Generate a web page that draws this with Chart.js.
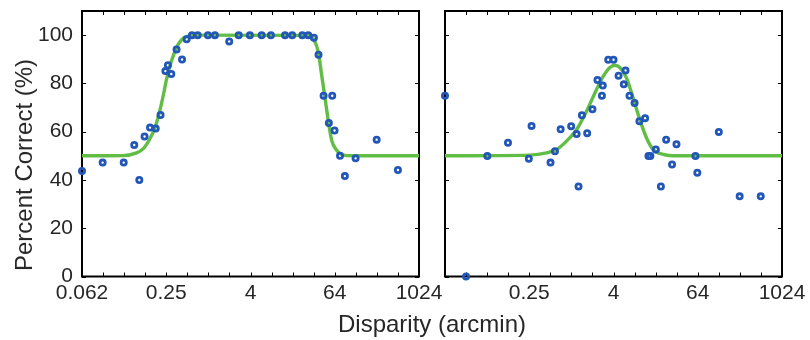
<!DOCTYPE html>
<html><head><meta charset="utf-8">
<script src="https://cdn.jsdelivr.net/npm/chart.js@4.4.1/dist/chart.umd.min.js"></script>
<style>
html,body{margin:0;padding:0;background:#fff;}
#wrap{position:relative;width:810px;height:340px;overflow:hidden;}
canvas{position:absolute;left:0;top:0;}
.t{position:absolute;white-space:nowrap;font-family:"Liberation Sans",Arial,sans-serif;font-size:24px;color:#262626;line-height:24px;}
#xt{left:432px;top:312px;transform:translateX(-50%);}
#yt{left:24px;top:165px;transform:translate(-50%,-50%) rotate(-90deg);}
</style></head>
<body><div id="wrap">
<canvas id="c1" width="810" height="340"></canvas>
<canvas id="c2" width="810" height="340"></canvas>
<div class="t" id="xt">Disparity (arcmin)</div>
<div class="t" id="yt">Percent Correct (%)</div>
</div>
<script>
// x positions are log2 of disparity (arcmin)
const xTickValues = [-6, -2, 2, 6, 10];
const xTickLabels = ['0.062', '0.25', '4', '64', '1024'];
const yTickValues = [0, 20, 40, 60, 80, 100];

const leftLog2Disparity = [-6.00,-5.02,-4.02,-3.52,-3.28,-3.03,-2.77,-2.50,-2.27,-2.04,-1.92,-1.76,-1.51,-1.25,-1.03,-0.78,-0.51,-0.02,0.31,0.99,1.44,1.97,2.53,2.97,3.64,3.98,4.46,4.74,5.01,5.23,5.47,5.88,5.72,5.99,6.25,6.48,6.99,7.99,9.00];
const leftPercent = [43.7,47.2,47.2,54.5,40.0,58.0,61.7,61.3,66.9,85.1,87.5,83.9,94.1,89.9,98.3,100,100,100,100,97.4,100,100,100,100,100,100,100,100,98.9,91.9,74.9,74.9,63.6,60.5,50.0,41.6,49.0,56.7,44.1];
const leftFitLog2 = [-6,-4.04,-3.41,-3.09,-2.77,-2.52,-2.30,-2.14,-1.98,-1.82,-1.66,-1.51,-1.27,-1.03,-0.72,4.74,4.98,5.22,5.37,5.53,5.69,5.85,6.09,6.41,6.88,10];
const leftFitPercent = [50,50.1,51.2,53.0,57.2,62.0,68.9,75.1,82.0,87.5,91.6,95.0,98.1,99.4,100,99.9,98.5,93.0,84.0,74.4,64.7,56.5,52.3,50.3,50,50];

const rightLog2Disparity = [-6.0,-5.0,-3.99,-3.01,-2.02,-1.89,-0.99,-0.78,-0.51,-0.01,0.25,0.34,0.50,0.75,1.00,1.24,1.45,1.49,1.75,2.00,2.24,2.57,2.49,2.76,3.00,3.23,3.50,3.66,3.75,4.01,4.25,4.50,4.78,4.99,5.89,5.98,7.00,7.99,8.99];
const rightPercent = [74.9,0,49.9,55.4,48.8,62.4,47.2,51.9,61.0,62.3,59.0,37.3,66.8,59.4,69.3,81.4,74.9,79.1,89.8,89.8,83.2,85.4,79.6,74.9,71.9,64.3,65.6,49.9,49.9,52.6,37.3,56.7,46.4,54.8,49.9,43.0,59.9,33.2,33.2];
const rightFitLog2 = [-6,-1.97,-1.18,-0.70,-0.23,0.25,0.72,1.19,1.51,1.83,2.06,2.30,2.62,2.93,3.25,3.57,3.88,4.36,4.99,10];
const rightFitPercent = [50,50.3,51.2,52.6,56.1,60.9,68.5,77.4,82.9,86.6,87.5,86.6,82.2,74.0,65.0,57.4,52.6,50.6,50,50];

const BLUE = '#2257b8';
const GREEN = '#62bd45';
const TXT = '#262626';
const FONT = '"Liberation Sans", Arial, sans-serif';

const boxPlugin = {
  id: 'box',
  beforeDatasetsDraw(chart) {
    const {ctx, chartArea: a, scales: {x, y}} = chart;
    ctx.save();
    ctx.strokeStyle = '#000';
    ctx.lineWidth = 1;
    ctx.beginPath();
    for (let v = -5; v <= 9; v++) {
      const px = Math.round(x.getPixelForValue(v)) + 0.5;
      ctx.moveTo(px, a.bottom); ctx.lineTo(px, a.bottom - 4);
      ctx.moveTo(px, a.top); ctx.lineTo(px, a.top + 4);
    }
    yTickValues.forEach(v => {
      const py = Math.round(y.getPixelForValue(v)) + 0.5;
      ctx.moveTo(a.left, py); ctx.lineTo(a.left + 4, py);
      ctx.moveTo(a.right, py); ctx.lineTo(a.right - 4, py);
    });
    ctx.stroke();
    ctx.lineWidth = 2;
    ctx.strokeRect(a.left, a.top, a.right - a.left, a.bottom - a.top);
    ctx.restore();
  }
};

function makeChart(id, xs, ys, fx, fy, left, right, showY) {
  const pts = xs.map((v, i) => ({x: v, y: ys[i]}));
  const fit = fx.map((v, i) => ({x: v, y: fy[i]}));
  return new Chart(document.getElementById(id), {
    type: 'scatter',
    data: {datasets: [
      {type: 'line', data: fit, borderColor: GREEN, borderWidth: 3.4, pointRadius: 0,
       cubicInterpolationMode: 'monotone', fill: false, order: 1, clip: false},
      {type: 'scatter', data: pts, pointRadius: 2.6, pointBorderWidth: 2.8,
       pointBorderColor: BLUE, pointBackgroundColor: 'rgba(255,255,255,0)', order: 0, clip: false}
    ]},
    options: {
      responsive: false, animation: false, devicePixelRatio: 1,
      layout: {padding: {left: 0, top: 11, right: 810 - right, bottom: 0}},
      plugins: {legend: {display: false}, tooltip: {enabled: false}},
      scales: {
        x: {type: 'linear', min: -6, max: 10,
            grid: {display: false, drawTicks: false}, border: {display: false},
            afterBuildTicks: s => { s.ticks = xTickValues.map(v => ({value: v})); },
            afterFit: s => { s.height = 63.5; s.paddingLeft = 0; s.paddingRight = 0; },
            ticks: {padding: 4, color: TXT, font: {family: FONT, size: 21},
                    maxRotation: 0, autoSkip: false,
                    callback: (v) => {
                      const i = xTickValues.indexOf(v);
                      if (i < 0) return '';
                      if (!showY && i === 0) return '';
                      return xTickLabels[i];
                    }}},
        y: {type: 'linear', min: 0, max: 110,
            grid: {display: false, drawTicks: false}, border: {display: false},
            afterBuildTicks: s => { s.ticks = yTickValues.map(v => ({value: v})); },
            afterFit: s => { s.width = left; s.paddingTop = 0; s.paddingBottom = 0; },
            ticks: {display: showY, padding: 9, color: TXT, font: {family: FONT, size: 21}}}
      }
    },
    plugins: [boxPlugin]
  });
}

makeChart('c1', leftLog2Disparity, leftPercent, leftFitLog2, leftFitPercent, 82, 419, true);
makeChart('c2', rightLog2Disparity, rightPercent, rightFitLog2, rightFitPercent, 445, 782, false);
</script>
</body></html>
